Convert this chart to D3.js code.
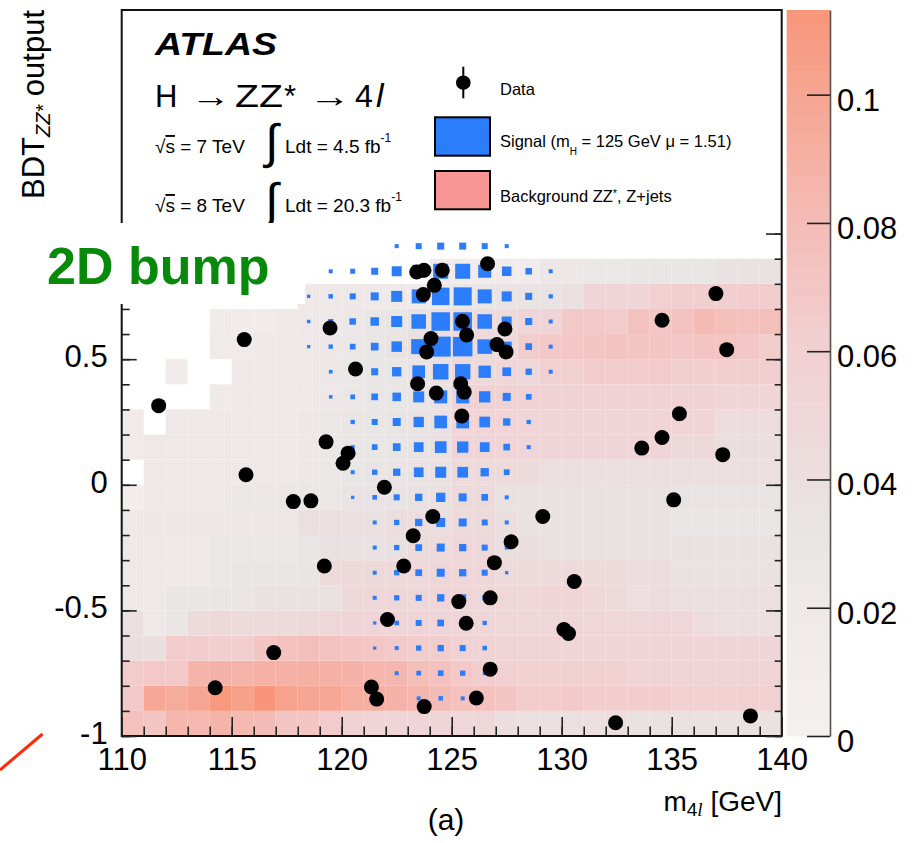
<!DOCTYPE html>
<html>
<head>
<meta charset="utf-8">
<script src="https://cdnjs.cloudflare.com/ajax/libs/d3/7.8.5/d3.min.js"></script>
<style>
body { margin: 0; background: #fff; }
svg text { font-family: "Liberation Sans", Arial, sans-serif; }
</style>
</head>
<body>
<script>
//============================================================
// Values

// candidate events: m4l [GeV] and BDT_ZZ* output
var dataMass = [123.41,123.74,124.57,126.63,124.21,123.71,119.47,125.49,125.68,127.42,
  127.06,127.47,124.06,123.86,120.63,123.45,124.30,125.41,125.57,125.46,
  119.29,120.29,120.06,115.57,111.68,115.65,121.94,137.01,134.56,137.50,
  135.35,134.56,133.64,137.32,117.80,118.60,124.14,123.25,119.21,122.82,
  122.08,116.91,114.25,121.35,121.59,123.75,135.09,129.14,127.70,126.94,
  130.57,125.32,126.75,125.66,130.10,130.31,126.75,126.12,132.45,138.58];
var dataBDT = [0.847,0.854,0.854,0.880,0.794,0.757,0.624,0.651,0.596,0.620,
  0.558,0.529,0.582,0.529,0.461,0.402,0.365,0.402,0.369,0.274,
  0.171,0.126,0.086,0.578,0.315,0.040,-0.010,0.761,0.655,0.538,
  0.283,0.188,0.146,0.120,-0.067,-0.064,-0.126,-0.203,-0.323,-0.323,
  -0.536,-0.668,-0.808,-0.805,-0.853,-0.883,-0.060,-0.126,-0.227,-0.310,
  -0.385,-0.465,-0.450,-0.551,-0.576,-0.592,-0.734,-0.849,-0.947,-0.920];

// bin low edges
var massBins = [110,111,112,113,114,115,116,117,118,119,120,121,122,123,124,
  125,126,127,128,129,130,131,132,133,134,135,136,137,138,139];
var bdtBins = [-1,-0.9,-0.8,-0.7,-0.6,-0.5,-0.4,-0.3,-0.2,-0.1,
  0,0.1,0.2,0.3,0.4,0.5,0.6,0.7,0.8,0.9];

// background ZZ*, Z+jets template (colz), one row per BDT bin from -1 up, null = empty bin
var bkgRows = [
  [0.075,0.070,0.085,0.083,0.087,0.082,0.080,0.071,0.070,0.064,0.057,0.054,0.052,0.052,0.052,0.050,0.050,0.042,0.040,0.040,0.040,0.040,0.042,0.037,0.037,0.037,0.037,0.037,0.037,0.037],
  [0.066,0.098,0.094,0.100,0.111,0.104,0.113,0.103,0.100,0.098,0.092,0.090,0.088,0.085,0.080,0.075,0.074,0.071,0.065,0.065,0.066,0.063,0.063,0.063,0.063,0.060,0.060,0.060,0.060,0.060],
  [0.065,0.068,0.067,0.087,0.088,0.087,0.089,0.089,0.090,0.089,0.088,0.085,0.084,0.078,0.074,0.068,0.063,0.060,0.060,0.060,0.060,0.060,0.060,0.055,0.055,0.055,0.055,0.055,0.055,0.055],
  [0.041,0.041,0.064,0.063,0.061,0.062,0.071,0.074,0.077,0.074,0.072,0.070,0.066,0.063,0.063,0.056,0.055,0.055,0.055,0.055,0.051,0.051,0.051,0.051,0.051,0.051,0.051,0.051,0.051,0.051],
  [0.040,0.022,0.028,0.045,0.047,0.046,0.046,0.046,0.047,0.050,0.051,0.052,0.052,0.051,0.051,0.051,0.050,0.050,0.050,0.050,0.050,0.050,0.050,0.050,0.050,0.049,0.043,0.040,0.040,0.040],
  [0.020,0.020,0.028,0.028,0.028,0.028,0.036,0.036,0.036,0.036,0.048,0.050,0.050,0.050,0.051,0.054,0.049,0.049,0.049,0.054,0.054,0.050,0.044,0.040,0.043,0.040,0.040,0.040,0.040,0.040],
  [0.020,0.021,0.021,0.022,0.027,0.028,0.029,0.030,0.032,0.045,0.047,0.047,0.047,0.048,0.049,0.050,0.050,0.044,0.044,0.044,0.044,0.044,0.044,0.043,0.043,0.037,0.037,0.037,0.037,0.037],
  [0.021,0.021,0.021,0.021,0.027,0.027,0.027,0.027,0.028,0.036,0.036,0.036,0.038,0.046,0.046,0.050,0.047,0.041,0.041,0.037,0.037,0.037,0.037,0.037,0.037,0.037,0.037,0.037,0.037,0.037],
  [0.020,0.024,0.024,0.024,0.024,0.024,0.024,0.024,0.038,0.039,0.039,0.039,0.042,0.042,0.042,0.046,0.046,0.041,0.037,0.037,0.037,0.037,0.037,0.037,0.037,0.029,0.029,0.029,0.029,0.029],
  [0.010,0.020,0.020,0.020,0.020,0.025,0.025,0.025,0.025,0.025,0.035,0.035,0.035,0.036,0.038,0.044,0.044,0.037,0.037,0.037,0.037,0.037,0.037,0.037,0.037,0.034,0.034,0.034,0.034,0.034],
  [null,0.020,0.020,0.020,0.020,0.020,0.022,0.022,0.024,0.026,0.030,0.032,0.033,0.034,0.036,0.046,0.046,0.046,0.046,0.040,0.040,0.040,0.040,0.040,0.040,0.040,0.040,0.040,0.040,0.040],
  [0.014,0.020,0.020,0.020,0.020,0.020,0.021,0.022,0.024,0.026,0.028,0.030,0.032,0.034,0.036,0.052,0.052,0.052,0.052,0.052,0.052,0.052,0.052,0.052,0.052,0.047,0.047,0.041,0.041,0.041],
  [0.014,null,0.020,0.020,0.020,0.020,0.021,0.022,0.024,0.026,0.028,0.030,0.032,0.034,0.036,0.054,0.054,0.054,0.054,0.054,0.054,0.054,0.054,0.054,0.054,0.054,0.054,0.043,0.043,0.043],
  [null,null,null,null,0.018,0.020,0.020,0.021,0.022,0.024,0.026,0.028,0.030,0.033,0.036,0.056,0.056,0.056,0.056,0.056,0.056,0.056,0.056,0.056,0.056,0.056,0.056,0.054,0.054,0.054],
  [null,null,0.012,null,null,0.020,0.020,0.020,0.022,0.024,0.026,0.028,0.030,0.034,0.040,0.047,0.047,0.050,0.050,0.060,0.060,0.064,0.064,0.064,0.064,0.061,0.061,0.061,0.061,0.061],
  [null,null,null,null,0.016,0.018,0.020,0.020,0.022,0.024,0.026,0.030,0.034,0.038,0.042,0.046,0.046,0.046,0.063,0.067,0.069,0.071,0.073,0.071,0.071,0.069,0.072,0.072,0.069,0.063],
  [null,null,null,null,0.013,0.013,0.013,0.020,0.020,0.022,0.024,0.028,0.032,0.036,0.040,0.044,0.044,0.046,0.051,0.051,0.067,0.067,0.064,0.074,0.071,0.074,0.081,0.078,0.074,0.078],
  [null,null,null,null,null,null,null,null,0.020,0.020,0.020,0.018,0.018,0.016,0.020,0.030,0.030,0.035,0.035,0.035,0.038,0.052,0.052,0.052,0.060,0.062,0.062,0.061,0.063,0.063],
  [null,null,null,null,null,null,null,null,null,null,null,null,null,null,0.016,0.013,0.013,0.013,0.013,0.024,0.024,0.026,0.026,0.030,0.030,0.030,0.030,0.036,0.036,0.036]
];

// signal (box option), mass bins 118..129 GeV, one row per BDT bin from -1 up
var sigMassLo = [118,119,120,121,122,123,124,125,126,127,128,129];
var sigRows = [
  [0,0,0,0,0,0,0,0,0,0,0,0],
  [0,0,0,0,0,0.040,0.045,0.040,0,0,0,0],
  [0,0,0,0,0.040,0.047,0.057,0.053,0.040,0,0,0],
  [0,0,0,0.033,0.040,0.053,0.063,0.060,0.045,0,0,0],
  [0,0,0,0.033,0.047,0.060,0.067,0.065,0.043,0,0,0],
  [0,0,0,0.040,0.053,0.060,0.073,0.070,0.050,0,0,0],
  [0,0,0,0.040,0.053,0.067,0.080,0.073,0.060,0.033,0,0],
  [0,0,0,0.040,0.053,0.067,0.080,0.073,0.060,0.040,0,0],
  [0,0,0,0.040,0.053,0.073,0.090,0.080,0.060,0.040,0,0],
  [0,0,0.033,0.047,0.060,0.073,0.093,0.080,0.067,0.040,0,0],
  [0,0,0.040,0.053,0.073,0.097,0.110,0.107,0.083,0.058,0,0],
  [0,0,0.040,0.057,0.077,0.097,0.117,0.113,0.097,0.067,0.040,0],
  [0,0,0.043,0.060,0.080,0.103,0.127,0.127,0.107,0.073,0.043,0],
  [0,0.035,0.047,0.067,0.085,0.110,0.130,0.130,0.113,0.080,0.057,0],
  [0,0.037,0.050,0.070,0.093,0.127,0.155,0.153,0.123,0.087,0.063,0.040],
  [0.033,0.043,0.057,0.077,0.105,0.150,0.200,0.195,0.145,0.100,0.067,0.040],
  [0.035,0.050,0.065,0.085,0.110,0.145,0.185,0.185,0.145,0.100,0.070,0.040],
  [0.033,0.045,0.060,0.080,0.110,0.140,0.175,0.180,0.140,0.100,0.070,0.043],
  [0,0.040,0.050,0.070,0.100,0.130,0.150,0.150,0.130,0.095,0.065,0.040],
  [0,0,0,0,0.040,0.060,0.070,0.070,0.060,0.040,0,0]
];

// axis ticks (the "1" label is hidden under the pasted box in the figure)
var massTicks = [110,115,120,125,130,135,140];
var massMinor = massBins.concat([140]);
var bdtTicks = [-1,-0.5,0,0.5,1];
var bdtLabels = [-1,-0.5,0,0.5];
var bdtMinor = bdtBins.concat([1]);
var zTicks = [0,0.02,0.04,0.06,0.08,0.1];

// palette of the z axis
var zStops = [0,0.01,0.02,0.03,0.04,0.05,0.06,0.07,0.08,0.09,0.1,0.11,0.1132];
var zColors = ["#f5f0f0","#f3ecec","#efe8e8","#e9e6e6","#ebdfdf","#efd6d8","#f1d0d2",
  "#f3c6c4","#f4bcb6","#f5b0a4","#f6a592","#f89a80","#f9957a"];

//============================================================
// SVG and scales
var svg = d3.select("body")
.append("svg")
.attr("width", 915)
.attr("height", 843);

var x = d3.scaleLinear().domain([110, 140]).range([121.7, 781.7]);
var y = d3.scaleLinear().domain([-1, 1.89]).range([736, 10]);
var z = d3.scaleLinear().domain([0, 0.1132]).range([736, 10]);
var color = d3.scaleLinear().domain(zStops).range(zColors).clamp(true);
var boxSize = d3.scaleLinear().domain([0, 0.2]).range([0, 20]);

//============================================================
// background cells
var cells = [];
bkgRows.forEach(function(row, j){
  row.forEach(function(v, i){
    if (v !== null) cells.push({m: massBins[i], b: bdtBins[j], v: v});
  });
});

svg.append("g").selectAll("rect")
.data(cells)
.enter()
.append("rect")
.attr("x", function(d){ return x(d.m); })
.attr("y", function(d){ return y(d.b + 0.1); })
.attr("width", function(d){ return x(d.m + 1) - x(d.m); })
.attr("height", function(d){ return y(d.b) - y(d.b + 0.1); })
.style("fill", function(d){ return color(d.v); });

// signal boxes
var boxes = [];
sigRows.forEach(function(row, j){
  row.forEach(function(v, i){
    if (v > 0) boxes.push({m: sigMassLo[i] + 0.5, b: bdtBins[j] + 0.05, v: v});
  });
});

svg.append("g").selectAll("rect")
.data(boxes)
.enter()
.append("rect")
.attr("x", function(d){ return x(d.m) - boxSize(d.v) / 2; })
.attr("y", function(d){ return y(d.b) - boxSize(d.v) / 2; })
.attr("width", function(d){ return boxSize(d.v); })
.attr("height", function(d){ return boxSize(d.v); })
.style("fill", "#2b7dfb");

// data points
svg.append("g").selectAll("circle")
.data(dataMass)
.enter()
.append("circle")
.attr("cx", function(d){ return x(d); })
.attr("cy", function(d, i){ return y(dataBDT[i]); })
.attr("r", 7.5)
.style("fill", "#000");

//============================================================
// frame and axes (ticks point inwards)
svg.append("rect")
.attr("x", x(110)).attr("y", y(1.89))
.attr("width", x(140) - x(110)).attr("height", y(-1) - y(1.89))
.style("fill", "none").style("stroke", "#111").style("stroke-width", 2);

var styleAxis = function(g){
  g.select(".domain").remove();
  g.selectAll("line").style("stroke", "#222").style("stroke-width", 1.6);
  g.attr("font-size", 31).attr("font-family", "Liberation Sans, Arial, sans-serif");
};

svg.append("g").attr("transform", "translate(0,736)")
.call(d3.axisBottom(x).tickValues(massMinor).tickSizeInner(-9.5).tickSizeOuter(0).tickFormat(""))
.call(styleAxis);
svg.append("g").attr("transform", "translate(0,736)")
.call(d3.axisBottom(x).tickValues(massTicks).tickSizeInner(-19).tickSizeOuter(0).tickPadding(12)
  .tickFormat(function(d){ return String(d); }))
.call(styleAxis);

svg.append("g").attr("transform", "translate(121.7,0)")
.call(d3.axisLeft(y).tickValues(bdtMinor).tickSizeInner(-8).tickSizeOuter(0).tickFormat(""))
.call(styleAxis);
svg.append("g").attr("transform", "translate(121.7,0)")
.call(d3.axisLeft(y).tickValues(bdtTicks).tickSizeInner(-15).tickSizeOuter(0).tickFormat(""))
.call(styleAxis);
svg.append("g").attr("transform", "translate(121.7,0)")
.call(d3.axisLeft(y).tickValues(bdtLabels).tickSize(0).tickPadding(14)
  .tickFormat(function(d){ return String(d); }))
.call(styleAxis)
.selectAll("text").attr("dy", "0.24em");

svg.append("g").attr("transform", "translate(781.7,0)")
.call(d3.axisRight(y).tickValues(bdtMinor).tickSizeInner(-7).tickSizeOuter(0).tickFormat(""))
.call(styleAxis);
svg.append("g").attr("transform", "translate(781.7,0)")
.call(d3.axisRight(y).tickValues(bdtTicks).tickSizeInner(-15.7).tickSizeOuter(0).tickFormat(""))
.call(styleAxis);

//============================================================
// colour bar
var bandEdges = d3.range(0, 0.1132, 0.1132 / 48);
svg.append("g").selectAll("rect")
.data(bandEdges)
.enter()
.append("rect")
.attr("x", 786.7)
.attr("y", function(d){ return z(Math.min(d + 0.1132 / 48, 0.1132)); })
.attr("width", 43.3)
.attr("height", z(0) - z(0.1132 / 48) + 0.5)
.style("fill", function(d){ return color(d + 0.1132 / 96); });

var zAxis = svg.append("g").attr("transform", "translate(830,0)")
.call(d3.axisRight(z).tickValues(zTicks).tickSizeInner(-23).tickSizeOuter(0).tickPadding(7)
  .tickFormat(function(d){ return String(d); }));
zAxis.attr("font-size", 31).attr("font-family", "Liberation Sans, Arial, sans-serif");
zAxis.select(".domain").style("stroke", "#555").style("stroke-width", 1.6);
zAxis.selectAll("line").style("stroke", "#222").style("stroke-width", 1.6);
zAxis.selectAll("text").attr("dy", "0.5em");

//============================================================
// axis titles
var yTitle = svg.append("text")
.attr("transform", "translate(44,10) rotate(-90)")
.attr("text-anchor", "end")
.attr("font-size", 31);
yTitle.append("tspan").text("BDT");
yTitle.append("tspan").attr("font-size", 20).attr("font-style", "italic").attr("dy", 6).text("ZZ*");
yTitle.append("tspan").attr("dy", -6).text(" output");

var xTitle = svg.append("text")
.attr("x", 782).attr("y", 811)
.attr("text-anchor", "end")
.attr("font-size", 28);
xTitle.append("tspan").text("m");
xTitle.append("tspan").attr("font-size", 19).attr("dy", 5).text("4");
xTitle.append("tspan").attr("font-size", 19).attr("font-style", "italic")
  .attr("font-family", "Liberation Serif, serif").text("l");
xTitle.append("tspan").attr("dy", -5).text(" [GeV]");

svg.append("text")
.attr("x", 446).attr("y", 830)
.attr("text-anchor", "middle")
.attr("font-family", "Liberation Serif, serif")
.attr("font-size", 30)
.text("(a)");

//============================================================
// ATLAS label and lumi lines
svg.append("text")
.attr("x", 155).attr("y", 55)
.attr("font-size", 31).attr("font-weight", "bold").attr("font-style", "italic")
.attr("textLength", 122).attr("lengthAdjust", "spacingAndGlyphs")
.text("ATLAS");

svg.append("text").attr("x", 155).attr("y", 107).attr("font-size", 31).text("H");
svg.append("text").attr("x", 191).attr("y", 107).attr("font-size", 31)
.attr("font-family", "DejaVu Sans, sans-serif")
.attr("textLength", 40).attr("lengthAdjust", "spacingAndGlyphs").text("\u2192");
svg.append("text").attr("x", 235).attr("y", 107).attr("font-size", 32)
.attr("textLength", 48).attr("lengthAdjust", "spacingAndGlyphs").text("ZZ");
svg.append("text").attr("x", 284).attr("y", 107).attr("font-size", 31).text("*");
svg.append("text").attr("x", 309).attr("y", 107).attr("font-size", 31)
.attr("font-family", "DejaVu Sans, sans-serif")
.attr("textLength", 42).attr("lengthAdjust", "spacingAndGlyphs").text("\u2192");
svg.append("text").attr("x", 355).attr("y", 107).attr("font-size", 32).text("4");
svg.append("text").attr("x", 376).attr("y", 107).attr("font-size", 34)
.attr("font-family", "Liberation Serif, serif").attr("font-style", "italic").text("l");

var lumiLines = [
  {sqrts: "7", lumi: "4.5", base: 153},
  {sqrts: "8", lumi: "20.3", base: 212}
];
lumiLines.forEach(function(l){
  var t = svg.append("text").attr("x", 155).attr("y", l.base).attr("font-size", 19);
  t.append("tspan").text("\u221A");
  t.append("tspan").style("text-decoration", "overline").text("s");
  t.append("tspan").text(" = " + l.sqrts + " TeV");
  svg.append("text").attr("x", 265).attr("y", l.base + 5)
  .attr("font-family", "DejaVu Sans, sans-serif").attr("font-size", 48).text("\u222B");
  var u = svg.append("text").attr("x", 285).attr("y", l.base).attr("font-size", 19);
  u.append("tspan").text("Ldt = " + l.lumi + " fb");
  u.append("tspan").attr("font-size", 12).attr("dy", -11).text("-1");
});

//============================================================
// legend
svg.append("line")
.attr("x1", 463.3).attr("x2", 463.3).attr("y1", 66.7).attr("y2", 98.3)
.style("stroke", "#000").style("stroke-width", 2);
svg.append("circle").attr("cx", 463.3).attr("cy", 82.7).attr("r", 7.3).style("fill", "#000");
svg.append("text").attr("x", 500).attr("y", 95).attr("font-size", 16.5).text("Data");

svg.append("rect")
.attr("x", 435).attr("y", 117.3).attr("width", 55).attr("height", 38.4)
.style("fill", "#2b7dfb").style("stroke", "#000").style("stroke-width", 2);
var sigText = svg.append("text").attr("x", 500).attr("y", 147).attr("font-size", 16.5);
sigText.append("tspan").text("Signal (m");
sigText.append("tspan").attr("font-size", 10).attr("dy", 8).text("H");
sigText.append("tspan").attr("dy", -8).text(" = 125 GeV \u03BC = 1.51)");

svg.append("rect")
.attr("x", 435).attr("y", 171).attr("width", 55).attr("height", 38.3)
.style("fill", "#f79494").style("stroke", "#000").style("stroke-width", 2);
var bkgText = svg.append("text").attr("x", 500).attr("y", 202).attr("font-size", 16.5);
bkgText.append("tspan").text("Background ZZ");
bkgText.append("tspan").attr("font-size", 11).attr("dy", -5).text("*");
bkgText.append("tspan").attr("dy", 5).text(", Z+jets");

//============================================================
// annotation pasted over the figure
svg.append("rect")
.attr("x", 0).attr("y", 223).attr("width", 305).attr("height", 81)
.style("fill", "#fff");
svg.append("text")
.attr("x", 47).attr("y", 284)
.attr("font-size", 52).attr("font-weight", "bold")
.style("fill", "#07890a")
.text("2D bump");

svg.append("line")
.attr("x1", 0).attr("y1", 770).attr("x2", 42.5).attr("y2", 734)
.style("stroke", "#ff2a0a").style("stroke-width", 3);
</script>
</body>
</html>
